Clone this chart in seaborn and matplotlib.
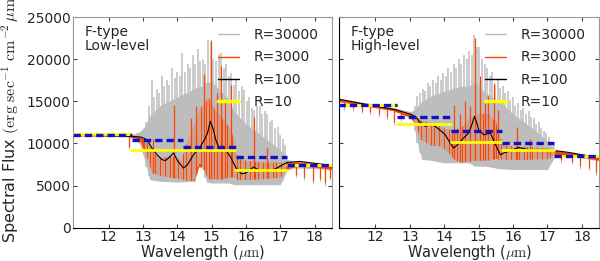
import numpy as np
import matplotlib
matplotlib.use("Agg")
import matplotlib.pyplot as plt
from matplotlib.lines import Line2D
import seaborn as sns

# ---------------- low-level panel ----------------
low_gray_w = [10.97, 12.5, 12.7, 12.9, 13.05, 13.2, 13.5, 14.0, 14.5, 14.62, 14.72, 14.85, 15.0, 15.5, 15.65, 16.0, 16.5, 17.0, 17.2, 17.4, 18.0, 18.5]
low_gray_hi = [11200, 11200, 11100, 11400, 12000, 13300, 14500, 15500, 16500, 16800, 16800, 17300, 17300, 15300, 13800, 12300, 10800, 9200, 8100, 7900, 7700, 7400]
low_gray_lo = [10900, 10900, 10600, 10000, 8000, 5700, 5500, 5400, 5500, 7500, 7500, 5400, 5300, 5300, 5100, 5100, 5100, 5100, 6800, 7100, 7000, 6900]
low_gray_spike_w = [13.10, 13.17, 13.25, 13.32, 13.40, 13.47, 13.55, 13.62, 13.70, 13.77, 13.85, 13.92, 14.00, 14.07,
                    14.15, 14.22, 14.30, 14.37, 14.45, 14.52, 14.60, 14.67, 14.75, 14.82, 14.90, 14.97, 15.05, 15.12,
                    15.20, 15.27, 15.35, 15.42, 15.50, 15.57, 15.65, 15.72, 15.80, 15.87, 15.94, 16.02, 16.10, 16.17,
                    16.23, 16.32, 16.40, 16.47, 16.55, 16.62, 16.70, 16.77, 16.85, 16.92, 17.00, 17.07, 17.15]
low_gray_spike_top = [12500, 14500, 17500, 15500, 16500, 16000, 18000, 16800, 17500, 17000, 19000, 17800, 18500, 18000,
                      20800, 18500, 19500, 19000, 20500, 19500, 21200, 19800, 20000, 19500, 22300, 21900, 20000, 19800,
                      20500, 20800, 19000, 19500, 18000, 18400, 17000, 17500, 16200, 16800, 16400, 15000, 15500, 14200,
                      14000, 14500, 14500, 13500, 13800, 13500, 12500, 12800, 11800, 12000, 11000, 10500, 9800]

low_orng_w = [10.97, 12.55, 12.9, 13.1, 13.25, 13.5, 13.8, 14.1, 14.3, 14.5, 14.62, 14.72, 14.9, 15.1, 15.3, 15.5, 15.65, 15.75, 16.0, 16.5, 17.0, 17.2, 17.5, 18.0, 18.5]
low_orng_hi = [11100, 11000, 10800, 10300, 9000, 8300, 8600, 8000, 10500, 12500, 14000, 14500, 15500, 14000, 13000, 12000, 10500, 8200, 8000, 7800, 7800, 7700, 7800, 7600, 7300]
low_orng_lo = [10900, 10850, 10400, 8500, 6500, 6200, 6000, 5800, 5600, 5600, 7200, 7200, 5800, 5800, 5800, 6000, 6000, 5700, 5700, 5800, 6000, 7000, 7300, 7200, 6900]
low_orng_spike_w = [13.3, 13.89, 14.4, 14.55, 14.77, 14.97, 15.15, 15.26, 15.4, 15.55, 16.23, 16.6]
low_orng_spike_top = [10500, 14600, 13000, 14500, 18200, 22300, 16000, 19200, 15000, 17000, 13200, 9500]

low_abs_w = [12.58, 17.45, 17.7, 17.95, 18.15, 18.3, 18.45]
low_abs_lo = [9600, 6300, 6000, 5500, 5800, 5300, 5900]

low_r100_w = [10.97, 12.73, 12.95, 13.12, 13.25, 13.41, 13.55, 13.65, 13.78, 13.89, 14.03, 14.18, 14.3, 14.47, 14.67, 14.8, 14.88,
              14.96, 15.05, 15.13, 15.2, 15.35, 15.45, 15.54, 15.65, 15.74, 15.88, 16.0, 16.12, 16.22, 16.42, 16.6, 16.8,
              17.0, 17.19, 17.58, 18.35, 18.5]
low_r100_f = [11030, 10830, 10750, 10440, 9500, 8650, 8100, 7940, 8400, 8860, 7800, 7070, 7500, 8650, 9640, 10500, 11240,
              12620, 11630, 10300, 9640, 9450, 9000, 8450, 7600, 6870, 6390, 6500, 6870, 7190, 6750, 6700, 6870,
              7300, 7740, 7860, 7460, 7200]

low_r10_edges = [10.97, 12.65, 15.69, 17.19, 18.5]
low_r10_f = [11100, 9170, 6870, 7460]
low_r20_edges = [10.97, 12.67, 14.18, 15.7, 17.2, 18.5]
low_r20_f = [11000, 10440, 9520, 8330, 7460]

# ---------------- high-level panel ----------------
high_gray_w = [10.91, 12.5, 13.0, 13.1, 13.2, 13.35, 13.6, 14.0, 14.5, 14.7, 14.9, 15.2, 15.6, 16.0, 16.5, 17.0, 17.2, 17.4, 18.0, 18.5]
high_gray_hi = [15400, 14300, 13800, 13900, 14300, 15000, 15600, 16200, 16800, 16800, 17300, 16000, 15000, 13500, 12000, 10300, 9300, 9000, 8700, 8300]
high_gray_lo = [15000, 14000, 13300, 12500, 10400, 8100, 8000, 7700, 7700, 7700, 7300, 7300, 7000, 6900, 6900, 6900, 8400, 8600, 8300, 7900]
high_gray_spike_w = [13.15, 13.22, 13.30, 13.37, 13.45, 13.52, 13.60, 13.67, 13.75, 13.82, 13.90, 13.97, 14.05, 14.12,
                     14.20, 14.27, 14.35, 14.42, 14.50, 14.57, 14.65, 14.72, 14.80, 14.87, 14.95, 15.02, 15.10, 15.17,
                     15.25, 15.32, 15.40, 15.47, 15.55, 15.62, 15.70, 15.77, 15.85, 15.92, 16.00, 16.07, 16.15, 16.22,
                     16.30, 16.37, 16.45, 16.52, 16.60, 16.67, 16.75, 16.82, 16.90, 16.97, 17.05, 17.12, 17.20]
high_gray_spike_top = [14500, 15600, 16000, 16500, 16200, 17200, 16800, 17500, 17200, 18000, 17500, 18400, 18000, 19000,
                       18500, 19500, 19000, 20000, 19500, 20500, 20000, 21000, 20500, 22900, 21500, 21500, 20000, 19500,
                       19000, 18000, 18500, 17000, 17500, 16600, 16800, 16000, 16200, 15200, 15500, 14500, 14800, 14000,
                       14200, 13500, 13800, 13200, 13000, 12300, 12500, 11800, 11500, 11200, 10800, 10200, 9800]

high_orng_w = [10.91, 12.5, 13.0, 13.15, 13.3, 13.6, 13.9, 14.1, 14.3, 14.5, 14.7, 14.9, 15.1, 15.3, 15.5, 15.6, 15.7, 16.0, 16.5, 17.0, 17.2, 17.5, 18.0, 18.5]
high_orng_hi = [15300, 14200, 13500, 13300, 12800, 12500, 12000, 11700, 11700, 12000, 13000, 13500, 13600, 13500, 12500, 11000, 9800, 9700, 9600, 9500, 9200, 9000, 8700, 8300]
high_orng_lo = [15000, 13900, 13100, 12400, 10500, 9800, 9700, 9000, 8000, 7800, 7900, 8000, 8000, 8100, 8200, 8200, 8100, 8100, 8100, 8200, 8600, 8600, 8400, 8000]
high_orng_spike_w = [14.27, 14.45, 14.61, 14.75, 14.9, 15.05, 15.18, 15.26, 15.45, 15.55, 16.1, 16.5]
high_orng_spike_top = [14600, 13500, 15000, 14500, 22500, 18000, 14800, 15600, 17200, 14000, 12000, 10500]

high_abs_w = [11.1, 11.35, 11.6, 11.85, 12.1, 12.35, 12.55, 12.75, 17.4, 17.7, 17.95, 18.2, 18.4]
high_abs_lo = [14300, 14200, 13900, 13700, 13500, 13200, 12500, 13000, 8000, 7800, 7300, 7100, 6600]

high_r100_w = [10.91, 11.61, 12.58, 13.0, 13.16, 13.3, 13.45, 13.6, 13.74, 13.9, 14.03, 14.15, 14.27, 14.4, 14.51, 14.71, 14.8,
               14.88, 14.95, 15.0, 15.15, 15.34, 15.42, 15.49, 15.63, 15.75, 15.87, 16.16, 16.45, 17.03, 17.62, 18.4, 18.5]
high_r100_f = [15280, 14730, 14010, 13500, 13210, 12500, 12020, 12300, 12020, 11500, 11030, 10200, 9450, 9900, 10440, 11240,
               12200, 13210, 12400, 11630, 11030, 11240, 10500, 9850, 8650, 8900, 9050, 9520, 9250, 9250, 8930, 8380, 8300]

high_r10_edges = [10.91, 12.63, 14.2, 15.68, 17.2, 18.5]
high_r10_f = [14530, 12310, 10170, 9170, 8540]
high_r20_edges = [10.91, 12.63, 14.2, 15.68, 17.2, 18.5]
high_r20_f = [14530, 13100, 11510, 10050, 8540]

GRAY = "#bdbdbd"
ORANGE = "#ff4500"
YELLOW = "#ffff00"
BLUE = "#1010c8"

sns.set_style("ticks")
plt.rcParams["font.family"] = ["DejaVu Sans"]
plt.rcParams["mathtext.fontset"] = "cm"

fig = plt.figure(figsize=(6.0, 2.61), dpi=100)
ax_low = fig.add_axes([0.121, 0.128, 0.432, 0.806])
ax_high = fig.add_axes([0.5655, 0.128, 0.433, 0.806])


def draw_panel(ax, gw, ghi, glo, gsw, gst, ow, ohi, olo, osw, ost, aw, alo,
               bw, bf, r10e, r10f, r20e, r20f, title):
    # R=30000
    ax.fill_between(gw, glo, ghi, color=GRAY, lw=0)
    ax.vlines(gsw, np.interp(gsw, gw, glo), gst, color=GRAY, lw=1.1)
    ax.vlines(aw, np.array(alo) - 300, np.interp(aw, bw, bf), color=GRAY, lw=0.8)
    # R=3000
    ax.fill_between(ow, olo, ohi, color=ORANGE, lw=0)
    ax.vlines(osw, np.interp(osw, ow, olo), ost, color=ORANGE, lw=0.9)
    ax.vlines(aw, alo, np.interp(aw, bw, bf), color=ORANGE, lw=0.9)
    # R=100
    sns.lineplot(x=bw, y=bf, ax=ax, color="black", lw=0.8, sort=False)
    # R=20 (dashed) and R=10 steps
    for i, f in enumerate(r20f):
        ax.plot([r20e[i], r20e[i + 1]], [f, f], color=BLUE, lw=2.4,
                dashes=(2.2, 1.2), zorder=5)
    for i, f in enumerate(r10f):
        ax.plot([r10e[i], r10e[i + 1]], [f, f], color=YELLOW, lw=2.0, zorder=4)

    ax.set_xlim(10.95, 18.5)
    ax.set_ylim(0, 25000)
    ax.set_xticks(range(12, 19))
    ax.set_yticks(range(0, 25001, 5000))
    ax.tick_params(direction="in", top=True, right=True, length=3,
                   labelsize=10, pad=1.5, color="#444444")
    ax.set_xlabel(r"Wavelength ($\mu\mathrm{m}$)", fontsize=10.5, labelpad=-0.5)
    for s in ["top", "right", "left"]:
        ax.spines[s].set_color("#999999")
    ax.spines["bottom"].set_color("black")
    ax.text(0.045, 0.965, title, transform=ax.transAxes, fontsize=10,
            va="top", ha="left", linespacing=1.05)

    handles = [Line2D([], [], color=GRAY, lw=1.0),
               Line2D([], [], color=ORANGE, lw=1.0),
               Line2D([], [], color="black", lw=1.0),
               Line2D([], [], color=YELLOW, lw=2.5)]
    ax.legend(handles, ["R=30000", "R=3000", "R=100", "R=10"], loc="upper right",
              frameon=False, fontsize=10, handlelength=1.5, handletextpad=1.05,
              labelspacing=0.6, borderaxespad=0, bbox_to_anchor=(0.969, 0.975))


draw_panel(ax_low, low_gray_w, low_gray_hi, low_gray_lo, low_gray_spike_w, low_gray_spike_top,
           low_orng_w, low_orng_hi, low_orng_lo, low_orng_spike_w, low_orng_spike_top,
           low_abs_w, low_abs_lo, low_r100_w, low_r100_f,
           low_r10_edges, low_r10_f, low_r20_edges, low_r20_f, "F-type\nLow-level")
draw_panel(ax_high, high_gray_w, high_gray_hi, high_gray_lo, high_gray_spike_w, high_gray_spike_top,
           high_orng_w, high_orng_hi, high_orng_lo, high_orng_spike_w, high_orng_spike_top,
           high_abs_w, high_abs_lo, high_r100_w, high_r100_f,
           high_r10_edges, high_r10_f, high_r20_edges, high_r20_f, "F-type\nHigh-level")

ax_high.set_yticklabels([])
ax_high.spines["left"].set_color("black")
ax_low.set_ylabel(r"Spectral Flux $(\mathrm{erg\ sec^{-1}\ cm^{-2}}\,\mu\mathrm{m}^{-1})$",
                  fontsize=11.5)
ax_low.yaxis.set_label_coords(-0.195, 0.56)

fig.savefig("out.png", dpi=100)
